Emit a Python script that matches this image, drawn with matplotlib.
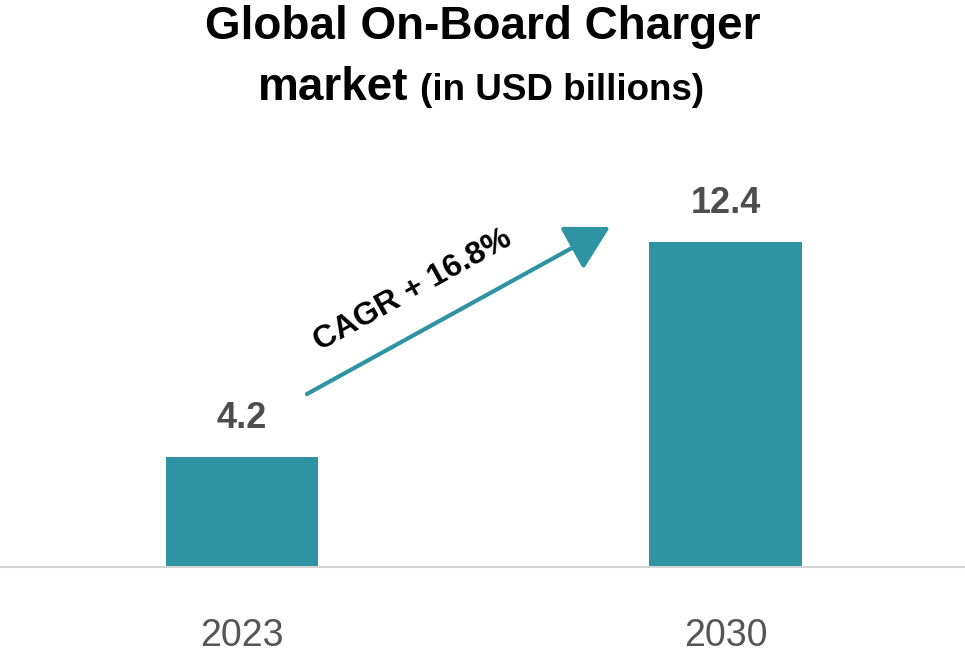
import matplotlib
matplotlib.use("Agg")
import matplotlib.pyplot as plt

plt.rcParams['font.family'] = ['Liberation Sans', 'DejaVu Sans']

# data
years = ["2023", "2030"]
values = [4.2, 12.4]
value_labels = ["4.2", "12.4"]
cagr_text = "CAGR + 16.8%"

teal = "#2e93a3"

fig = plt.figure(figsize=(9.65, 6.6), dpi=100)
ax = fig.add_axes([0, 93 / 660, 1, 367 / 660])

x = list(range(len(years)))
ax.bar(x, values, width=0.316, color=teal, zorder=2)
ax.set_xlim(-0.5005, 1.4953)
ax.set_ylim(0, 14)

for xi, v, lab in zip(x, values, value_labels):
    ax.annotate(lab, (xi, v), xytext=(0, 21), textcoords="offset points",
                ha="center", va="baseline", fontsize=26, fontweight="bold",
                color="#4d4d4d")

ax.set_xticks(x)
ax.set_xticklabels(years, fontsize=27, color="#555555")
ax.tick_params(axis="x", length=0, pad=37)
ax.set_yticks([])
for s in ["top", "left", "right"]:
    ax.spines[s].set_visible(False)
ax.spines["bottom"].set_color("#d4d4d4")
ax.spines["bottom"].set_linewidth(1.5)

# title, two lines, second one mixes sizes
fig.text(0.5, 1 - 39 / 660, "Global On-Board Charger", ha="center",
         va="baseline", fontsize=33, fontweight="bold", color="black")
fig.text(408 / 965, 1 - 100 / 660, "market", ha="right", va="baseline",
         fontsize=33, fontweight="bold", color="black")
fig.text(420 / 965, 1 - 100 / 660, "(in USD billions)", ha="left",
         va="baseline", fontsize=26.5, fontweight="bold", color="black")

# CAGR arrow
ax.annotate("", xy=(610, 660 - 227), xycoords="figure pixels",
            xytext=(307, 660 - 394), textcoords="figure pixels",
            arrowprops=dict(arrowstyle="-|>,head_length=2.7,head_width=1.5",
                            mutation_scale=10, lw=3, color=teal,
                            shrinkA=0, shrinkB=0))
fig.text(413 / 965, 1 - 290 / 660, cagr_text, rotation=29,
         rotation_mode="anchor", ha="center", va="center", fontsize=23,
         fontweight="bold", color="black")

fig.savefig("out.png", dpi=100)
